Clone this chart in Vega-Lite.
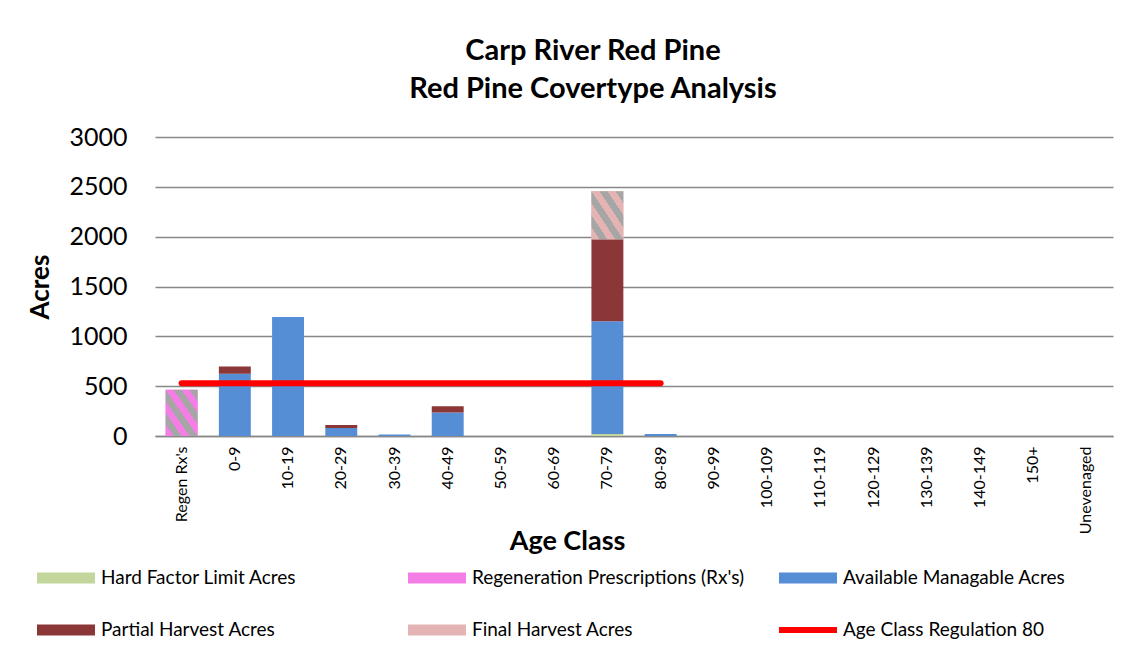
{
  "$schema": "https://vega.github.io/schema/vega-lite/v6.json",
  "width": 958,
  "height": 299,
  "padding": {"left": 27, "top": 37, "right": 20, "bottom": 5},
  "background": "white",
  "title": {
    "text": ["Carp River Red Pine", "Red Pine Covertype Analysis"],
    "font": "Lato",
    "fontSize": 29,
    "fontWeight": "bold",
    "color": "#000000",
    "lineHeight": 38,
    "anchor": "middle",
    "dx": -41,
    "offset": 21
  },
  "datasets": {
    "bars": [
      {"age": "Regen Rx's", "series": "Regeneration Prescriptions (Rx's)", "ord": 2, "acres": 463},
      {"age": "0-9", "series": "Available Managable Acres", "ord": 3, "acres": 625},
      {"age": "0-9", "series": "Partial Harvest Acres", "ord": 4, "acres": 73},
      {"age": "10-19", "series": "Available Managable Acres", "ord": 3, "acres": 1195},
      {"age": "20-29", "series": "Available Managable Acres", "ord": 3, "acres": 80},
      {"age": "20-29", "series": "Partial Harvest Acres", "ord": 4, "acres": 30},
      {"age": "30-39", "series": "Available Managable Acres", "ord": 3, "acres": 15},
      {"age": "40-49", "series": "Available Managable Acres", "ord": 3, "acres": 235},
      {"age": "40-49", "series": "Partial Harvest Acres", "ord": 4, "acres": 64},
      {"age": "70-79", "series": "Hard Factor Limit Acres", "ord": 1, "acres": 20},
      {"age": "70-79", "series": "Available Managable Acres", "ord": 3, "acres": 1131},
      {"age": "70-79", "series": "Partial Harvest Acres", "ord": 4, "acres": 822},
      {"age": "70-79", "series": "Final Harvest Acres", "ord": 5, "acres": 483},
      {"age": "80-89", "series": "Available Managable Acres", "ord": 3, "acres": 20}
    ],
    "line": [
      {"age": "Regen Rx's", "acres": 530},
      {"age": "0-9", "acres": 530},
      {"age": "10-19", "acres": 530},
      {"age": "20-29", "acres": 530},
      {"age": "30-39", "acres": 530},
      {"age": "40-49", "acres": 530},
      {"age": "50-59", "acres": 530},
      {"age": "60-69", "acres": 530},
      {"age": "70-79", "acres": 530},
      {"age": "80-89", "acres": 530}
    ]
  },
  "encoding": {
    "x": {
      "field": "age",
      "type": "nominal",
      "sort": null,
      "scale": {
        "domain": ["Regen Rx's", "0-9", "10-19", "20-29", "30-39", "40-49", "50-59", "60-69", "70-79", "80-89", "90-99", "100-109", "110-119", "120-129", "130-139", "140-149", "150+", "Unevenaged"],
        "paddingInner": 0.4,
        "paddingOuter": 0.2
      },
      "axis": {
        "title": "Age Class",
        "labelAngle": 270,
        "labelFontSize": 16,
        "labelFont": "Lato",
        "labelColor": "#000000",
        "labelPadding": 10,
        "ticks": false,
        "domainColor": "#888888",
        "domainWidth": 1.5,
        "titleFont": "Lato",
        "titleFontSize": 27,
        "titleFontWeight": "bold",
        "titleColor": "#000000",
        "titleX": 412,
        "titleY": 105,
        "titleBaseline": "middle",
        "titleAnchor": null,
        "titleAlign": "center"
      }
    }
  },
  "layer": [
    {
      "data": {"name": "bars"},
      "mark": {"type": "bar"},
      "encoding": {
        "y": {
          "field": "acres",
          "type": "quantitative",
          "stack": "zero",
          "title": "Acres",
          "scale": {"domain": [0, 3000]},
          "axis": {
            "title": "Acres",
            "format": "d",
            "values": [0, 500, 1000, 1500, 2000, 2500, 3000],
            "labelFont": "Lato",
            "labelFontSize": 25,
            "labelColor": "#000000",
            "labelPadding": 28,
            "ticks": false,
            "domain": false,
            "gridColor": "#888888",
            "gridWidth": 1.5,
            "titleFont": "Lato",
            "titleFontSize": 26,
            "titleFontWeight": "bold",
            "titleColor": "#000000",
            "titlePadding": 15
          }
        },
        "color": {
          "field": "series",
          "type": "nominal",
          "scale": {
            "domain": ["Hard Factor Limit Acres", "Regeneration Prescriptions (Rx's)", "Available Managable Acres", "Partial Harvest Acres", "Final Harvest Acres", "Age Class Regulation 80"],
            "range": ["#c3d69b", "#f47ee6", "#558ed5", "#8b3737", "#e3b4b3", "#ff0000"]
          },
          "legend": {
            "title": null,
            "orient": "none",
            "legendX": -118,
            "legendY": 412,
            "columns": 3,
            "direction": "horizontal",
            "gridAlign": "all",
            "columnPadding": 34,
            "rowPadding": 13,
            "labelFont": "Lato",
            "labelFontSize": 19,
            "labelColor": "#000000",
            "labelOffset": 6,
            "labelLimit": 400,
            "symbolSize": 3364,
            "symbolStrokeWidth": 0,
            "encode": {
              "symbols": {
                "update": {
                  "shape": [
                    {"test": "datum.value === 'Age Class Regulation 80'", "value": "M-1,-0.1H1V0.1H-1Z"},
                    {"value": "M-1,-0.19H1V0.19H-1Z"}
                  ],
                  "opacity": {"value": 1},
                  "fillOpacity": {"value": 1}
                }
              }
            }
          }
        },
        "order": {"field": "ord", "type": "quantitative"}
      }
    },
    {
      "data": {"name": "bars"},
      "transform": [
        {"stack": "acres", "groupby": ["age"], "sort": [{"field": "ord", "order": "ascending"}], "as": ["y0", "y1"]},
        {"filter": "datum.series === 'Final Harvest Acres'"}
      ],
      "mark": {"type": "bar", "color": {"gradient": "linear", "x1": 0, "y1": 1, "x2": 1, "y2": 0, "stops": [
        {"offset": 0, "color": "#e3b4b3"}, {"offset": 0.125, "color": "#e3b4b3"}, {"offset": 0.125, "color": "#a6a6a6"}, {"offset": 0.25, "color": "#a6a6a6"},
        {"offset": 0.25, "color": "#e3b4b3"}, {"offset": 0.375, "color": "#e3b4b3"}, {"offset": 0.375, "color": "#a6a6a6"}, {"offset": 0.5, "color": "#a6a6a6"},
        {"offset": 0.5, "color": "#e3b4b3"}, {"offset": 0.625, "color": "#e3b4b3"}, {"offset": 0.625, "color": "#a6a6a6"}, {"offset": 0.75, "color": "#a6a6a6"},
        {"offset": 0.75, "color": "#e3b4b3"}, {"offset": 0.875, "color": "#e3b4b3"}, {"offset": 0.875, "color": "#a6a6a6"}, {"offset": 1, "color": "#a6a6a6"}
      ]}},
      "encoding": {
        "y": {"field": "y0", "type": "quantitative", "title": "Acres"},
        "y2": {"field": "y1"}
      }
    },
    {
      "data": {"name": "bars"},
      "transform": [
        {"stack": "acres", "groupby": ["age"], "sort": [{"field": "ord", "order": "ascending"}], "as": ["y0", "y1"]},
        {"filter": "datum.series === 'Regeneration Prescriptions (Rx\\'s)'"}
      ],
      "mark": {"type": "bar", "color": {"gradient": "linear", "x1": 0, "y1": 1, "x2": 1, "y2": 0, "stops": [
        {"offset": 0, "color": "#f47ee6"}, {"offset": 0.125, "color": "#f47ee6"}, {"offset": 0.125, "color": "#a6a6a6"}, {"offset": 0.25, "color": "#a6a6a6"},
        {"offset": 0.25, "color": "#f47ee6"}, {"offset": 0.375, "color": "#f47ee6"}, {"offset": 0.375, "color": "#a6a6a6"}, {"offset": 0.5, "color": "#a6a6a6"},
        {"offset": 0.5, "color": "#f47ee6"}, {"offset": 0.625, "color": "#f47ee6"}, {"offset": 0.625, "color": "#a6a6a6"}, {"offset": 0.75, "color": "#a6a6a6"},
        {"offset": 0.75, "color": "#f47ee6"}, {"offset": 0.875, "color": "#f47ee6"}, {"offset": 0.875, "color": "#a6a6a6"}, {"offset": 1, "color": "#a6a6a6"}
      ]}},
      "encoding": {
        "y": {"field": "y0", "type": "quantitative", "title": "Acres"},
        "y2": {"field": "y1"}
      }
    },
    {
      "data": {"name": "line"},
      "mark": {"type": "line", "color": "#ff0000", "strokeWidth": 6, "strokeCap": "round"},
      "encoding": {
        "y": {"field": "acres", "type": "quantitative", "title": "Acres"}
      }
    }
  ],
  "config": {
    "view": {"stroke": null},
    "axis": {"gridColor": "#888888"}
  }
}
